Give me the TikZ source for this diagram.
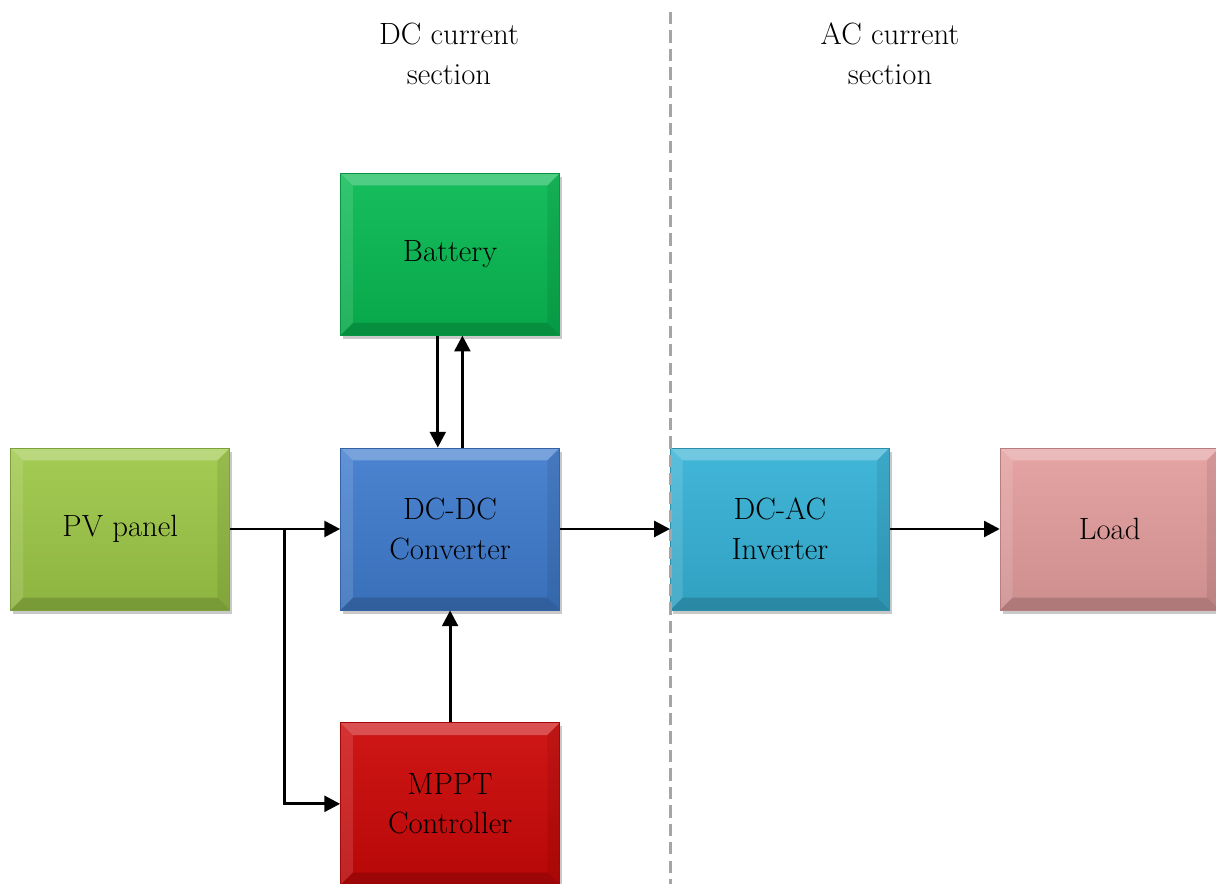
\documentclass[tikz,border=0pt]{standalone}
\usetikzlibrary{arrows.meta,shadows,calc}

\definecolor{pvgreen}{RGB}{158,200,72}
\definecolor{batgreen}{RGB}{8,186,82}
\definecolor{convblue}{RGB}{64,124,206}
\definecolor{invcyan}{RGB}{54,178,214}
\definecolor{loadpink}{RGB}{228,158,158}
\definecolor{mpptred}{RGB}{204,8,8}
\definecolor{dividergray}{RGB}{165,165,165}

% bevelled edges of a block
\newcommand{\bevelsides}{%
    \fill[white, opacity=.25] (path picture bounding box.north west) -- (path picture bounding box.north east)
        -- ([shift={(-7pt,-7pt)}]path picture bounding box.north east) -- ([shift={(7pt,-7pt)}]path picture bounding box.north west) -- cycle;
    \fill[white, opacity=.12] (path picture bounding box.north west) -- (path picture bounding box.south west)
        -- ([shift={(7pt,7pt)}]path picture bounding box.south west) -- ([shift={(7pt,-7pt)}]path picture bounding box.north west) -- cycle;
    \fill[black, opacity=.15] (path picture bounding box.south west) -- (path picture bounding box.south east)
        -- ([shift={(-7pt,7pt)}]path picture bounding box.south east) -- ([shift={(7pt,7pt)}]path picture bounding box.south west) -- cycle;
    \fill[black, opacity=.08] (path picture bounding box.north east) -- (path picture bounding box.south east)
        -- ([shift={(-7pt,7pt)}]path picture bounding box.south east) -- ([shift={(-7pt,-7pt)}]path picture bounding box.north east) -- cycle;
}

\begin{document}
\begin{tikzpicture}[%
    x=0.02cm, y=-0.02cm,
    blockbox/.style={
        draw=#1!80!black,
        line width=0.5pt,
        top color=#1!94!white,
        bottom color=#1!90!black,
        minimum width=4.38cm,
        minimum height=3.24cm,
        inner sep=0pt,
        align=center,
        font=\fontsize{17.5}{22.5}\selectfont,
        drop shadow={shadow xshift=1.5pt, shadow yshift=-2pt, opacity=.35, fill=black!60},
        path picture={\bevelsides},
        },
    headtext/.style={
        align=center,
        font=\fontsize{17.5}{22.5}\selectfont,
        },
    flow/.style={
        line width=1.7pt,
        -{Triangle[length=9pt, width=9pt]},
        },
    divider/.style={
        line width=1.7pt,
        dividergray,
        dash pattern=on 7pt off 3.5pt,
        },
]

\useasboundingbox[fill=white] (0,0) rectangle (1216,884);

% section labels
\node[headtext] (dchead) at (449,54) {DC current\\section};
\node[headtext] (achead) at (890,54) {AC current\\section};

\matrix (layout) [column sep=2.2cm, row sep=2.24cm] at (615,529) {
    & \node[blockbox=batgreen] (battery) {Battery}; & & \\
    \node[blockbox=pvgreen] (pv) {PV panel}; &
    \node[blockbox=convblue] (dcdc) {DC-DC\\Converter}; &
    \node[blockbox=invcyan] (dcac) {DC-AC\\Inverter}; &
    \node[blockbox=loadpink] (load) {Load}; \\
    & \node[blockbox=mpptred] (mppt) {MPPT\\Controller}; & & \\
};

% divider between the two sections
\coordinate (divtop) at (670,12);
\coordinate (divbottom) at (670,884);
\draw[divider] (divtop) -- (divbottom);

% connections
\coordinate (split) at ($(pv.east)!0.49!(dcdc.west)$);
\draw[flow] (pv) -- (dcdc);
\draw[flow] (split) |- (mppt);
\draw[flow] ([xshift=-7pt]battery.south) -- ([xshift=-7pt]dcdc.north);
\draw[flow] ([xshift=7pt]dcdc.north) -- ([xshift=7pt]battery.south);
\draw[flow] (mppt) -- (dcdc);
\draw[flow] (dcdc) -- (dcac);
\draw[flow] (dcac) -- (load);

\end{tikzpicture}
\end{document}
